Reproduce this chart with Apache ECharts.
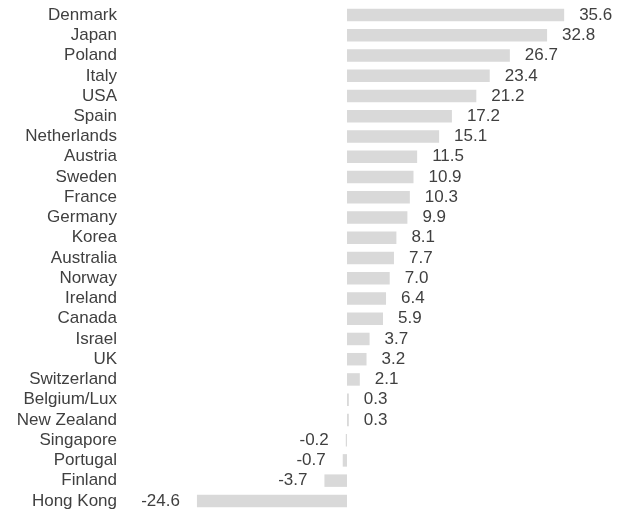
<!DOCTYPE html>
<html>
<head>
<meta charset="utf-8">
<script src="https://cdn.jsdelivr.net/npm/echarts@6/dist/echarts.min.js"></script>
<style>
html,body{margin:0;padding:0;background:#fff;}
#chart{width:634px;height:515px;}
</style>
</head>
<body>
<div id="chart"></div>
<script>
const categories = ["Denmark","Japan","Poland","Italy","USA","Spain","Netherlands","Austria","Sweden","France","Germany","Korea","Australia","Norway","Ireland","Canada","Israel","UK","Switzerland","Belgium/Lux","New Zealand","Singapore","Portugal","Finland","Hong Kong"];
const values = [35.6,32.8,26.7,23.4,21.2,17.2,15.1,11.5,10.9,10.3,9.9,8.1,7.7,7.0,6.4,5.9,3.7,3.2,2.1,0.3,0.3,-0.2,-0.7,-3.7,-24.6];

const chart = echarts.init(document.getElementById('chart'), null, {renderer:'canvas'});
const FONT = '"Liberation Sans", Arial, sans-serif';
const TXT = '#404040';

const seriesData = values.map(v => ({
  value: v,
  label: {
    position: v >= 0 ? 'right' : 'left',
    distance: v >= 0 ? 15 : 17
  }
}));

chart.setOption({
  animation: false,
  backgroundColor: '#ffffff',
  grid: { left: 164, width: 427, top: 5, bottom: 4, containLabel: false },
  xAxis: {
    type: 'value', min: -30, max: 40,
    show: false
  },
  yAxis: {
    type: 'category',
    data: categories,
    inverse: true,
    axisLine: { show: false },
    axisTick: { show: false },
    splitLine: { show: false },
    axisLabel: { interval: 0, margin: 47, color: TXT, fontFamily: FONT, fontSize: 17, align: 'right' }
  },
  series: [{
    type: 'bar',
    data: seriesData,
    barWidth: 12.5,
    itemStyle: { color: '#d9d9d9' },
    label: {
      show: true,
      color: TXT,
      fontFamily: FONT,
      fontSize: 17,
      formatter: p => p.value.toFixed(1)
    }
  }]
});
</script>
</body>
</html>
